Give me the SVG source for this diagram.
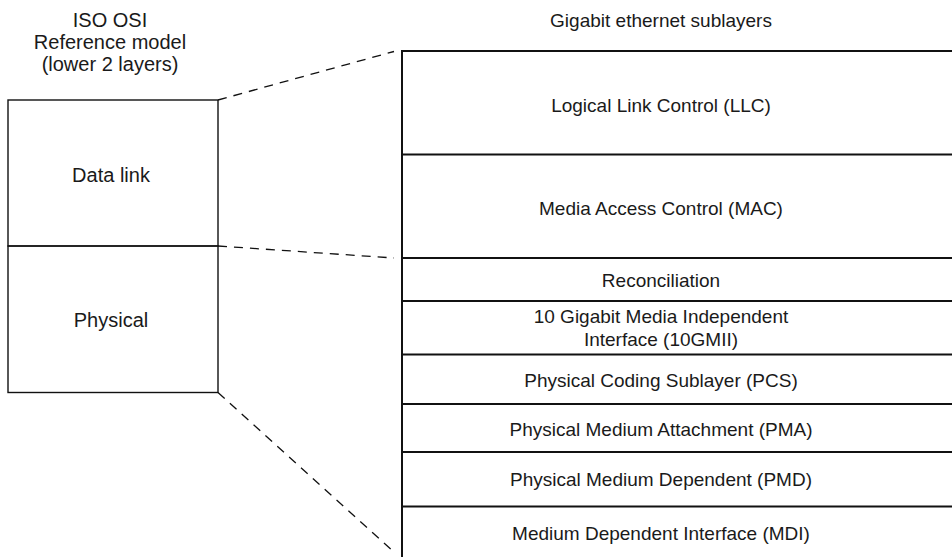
<svg xmlns="http://www.w3.org/2000/svg" width="952" height="557" viewBox="0 0 952 557">
<style>
text{font-family:"Liberation Sans",Arial,sans-serif;fill:#1a1a1a;text-anchor:middle}
.l{font-size:20px}
.r{font-size:19px}
.box{fill:none;stroke:#111;stroke-width:1.4}
.sub{stroke:#111;stroke-width:2}
.dash{stroke:#111;stroke-width:1.3;stroke-dasharray:9 7;fill:none}
</style>
<rect width="952" height="557" fill="#fff"/>
<g id="osi-title">
<text class="l" x="110" y="27">ISO OSI</text>
<text class="l" x="110" y="49">Reference model</text>
<text class="l" x="110" y="71">(lower 2 layers)</text>
</g>
<g id="data-link">
<rect class="box" x="8" y="100" width="210" height="146"/>
<text class="l" x="111" y="182">Data link</text>
</g>
<g id="physical">
<rect class="box" x="8" y="246" width="210" height="146.5"/>
<text class="l" x="111" y="327">Physical</text>
</g>
<g id="gig-title">
<text class="r" x="661" y="27">Gigabit ethernet sublayers</text>
</g>
<g id="sublayers">
<line class="sub" x1="402" y1="51" x2="402" y2="557"/>
<line class="sub" x1="401" y1="51" x2="952" y2="51"/>
</g>
<g id="llc">
<text class="r" x="661" y="112">Logical Link Control (LLC)</text>
</g>
<g id="mac">
<line class="sub" x1="402" y1="154.5" x2="952" y2="154.5"/>
<text class="r" x="661" y="215">Media Access Control (MAC)</text>
</g>
<g id="reconciliation">
<line class="sub" x1="402" y1="258" x2="952" y2="258"/>
<text class="r" x="661" y="287">Reconciliation</text>
</g>
<g id="xgmii">
<line class="sub" x1="402" y1="301" x2="952" y2="301"/>
<text class="r" x="661" y="323">10 Gigabit Media Independent</text>
<text class="r" x="661" y="346">Interface (10GMII)</text>
</g>
<g id="pcs">
<line class="sub" x1="402" y1="354.5" x2="952" y2="354.5"/>
<text class="r" x="661" y="387">Physical Coding Sublayer (PCS)</text>
</g>
<g id="pma">
<line class="sub" x1="402" y1="404" x2="952" y2="404"/>
<text class="r" x="661" y="436">Physical Medium Attachment (PMA)</text>
</g>
<g id="pmd">
<line class="sub" x1="402" y1="452" x2="952" y2="452"/>
<text class="r" x="661" y="486">Physical Medium Dependent (PMD)</text>
</g>
<g id="mdi">
<line class="sub" x1="402" y1="506.5" x2="952" y2="506.5"/>
<text class="r" x="661" y="540">Medium Dependent Interface (MDI)</text>
</g>
<g id="connectors">
<line class="dash" x1="218" y1="100" x2="394" y2="51.5"/>
<line class="dash" x1="218" y1="246" x2="394" y2="258"/>
<line class="dash" x1="218" y1="392.5" x2="394" y2="552"/>
</g>
</svg>
